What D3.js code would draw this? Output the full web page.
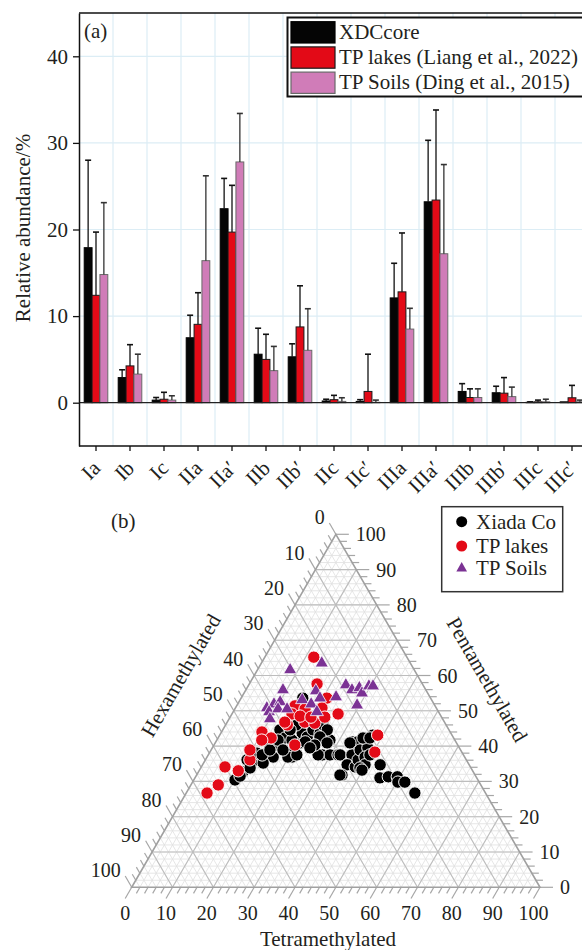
<!DOCTYPE html>
<html><head><meta charset="utf-8">
<script src="https://cdn.jsdelivr.net/npm/d3@7"></script>
<style>
body{margin:0;background:#fff}
text{font-family:"Liberation Serif","Times New Roman",serif;fill:#231f20}
</style>
</head><body>
<svg id="c" width="582" height="950"></svg>
<script>
// ---------- DATA: panel (a) ----------
const categories = ["Ia","Ib","Ic","IIa","IIa′","IIb","IIb′","IIc","IIc′","IIIa","IIIa′","IIIb","IIIb′","IIIc","IIIc′"];
const seriesNames = ["XDCcore","TP lakes (Liang et al., 2022)","TP Soils (Ding et al., 2015)"];
const xdcMean   = [17.9, 2.9, 0.3, 7.5, 22.4, 5.6, 5.3, 0.2, 0.15, 12.1, 23.2, 1.3, 1.15, 0.05, 0.1];
const xdcSd     = [10.1, 0.9, 0.3, 2.6, 3.5, 3.0, 1.5, 0.2, 0.2, 4.0, 7.1, 0.9, 0.75, 0.05, 0.0];
const lakesMean = [12.4, 4.25, 0.4, 9.05, 19.7, 5.0, 8.75, 0.35, 1.3, 12.8, 23.4, 0.6, 1.1, 0.1, 0.57];
const lakesSd   = [7.3, 2.45, 0.8, 3.65, 5.4, 2.9, 4.75, 0.5, 4.3, 6.8, 10.4, 1.0, 1.8, 0.2, 1.43];
const soilsMean = [14.8, 3.3, 0.3, 16.4, 27.8, 3.7, 6.05, 0.15, 0.05, 8.5, 17.2, 0.6, 0.7, 0.1, 0.1];
const soilsSd   = [8.3, 2.3, 0.5, 9.8, 5.6, 2.8, 4.8, 0.42, 0.25, 2.4, 10.3, 1.0, 1.1, 0.3, 0.2];
const yTicks = [0, 10, 20, 30, 40];

// ---------- DATA: panel (b) [tetra, penta, hexa] ----------
const ternTicks = [0,10,20,30,40,50,60,70,80,90,100];
const ternLegend = ["Xiada Co","TP lakes","TP Soils"];
const xiadaCo = [
 [10.1,30.4,59.5],[10.9,32.7,56.4],[10.2,36.1,53.7],[12.7,36.1,51.2],[11.7,38.0,50.3],[14.1,38.0,47.9],
 [14.0,39.8,46.2],[16.2,36.9,46.9],[16.5,39.8,43.7],[16.8,42.6,40.6],[14.0,44.6,41.4],[20.8,36.9,42.3],
 [20.8,40.9,38.3],[19.9,43.7,36.4],[21.7,42.6,35.7],[22.1,44.6,33.3],[24.3,43.7,32.0],[27.7,41.7,30.6],
 [27.9,37.5,34.6],[29.8,37.5,32.7],[31.8,37.5,30.7],[15.1,53.6,31.3],[16.4,42.3,41.3],[18.4,41.7,39.9],
 [21.9,41.2,36.9],[20.2,38.0,41.8],[19.8,36.9,43.3],[21.7,37.5,40.8],[23.9,46.0,30.1],[25.6,44.6,29.8],
 [24.8,42.6,32.6],[27.4,40.9,31.7],[26.9,37.5,35.6],[14.6,35.2,50.2],[12.1,33.8,54.1],[10.8,31.5,57.7],
 [15.0,41.7,43.3],[17.3,46.0,36.7],[16.5,44.6,38.9],[24.7,40.3,35.0],[17.6,38.9,43.5],[13.2,37.5,49.3],
 [14.4,38.9,46.7],[23.9,39.5,36.6],[14.9,51.6,33.5],
 [32.3,37.5,30.2],[33.4,41.2,25.4],[35.0,39.5,25.5],[35.2,37.5,27.3],[35.4,34.7,29.9],[37.7,34.1,28.2],
 [35.6,31.8,32.6],[37.4,36.1,26.5],[37.5,43.1,19.4],[36.0,42.3,21.7],[34.8,41.2,24.0],[36.5,38.9,24.6],
 [38.1,39.5,22.4],[38.7,36.9,24.4],[39.8,34.7,25.5],[39.0,33.8,27.2],[39.6,37.5,22.9],[43.5,34.7,21.8],
 [45.3,31.0,23.7],[47.2,31.3,21.5],[49.4,31.3,19.3],[50.3,29.8,19.9],[52.0,29.8,18.2],[56.0,26.7,17.3],
 [39.8,33.2,27.0],[33.0,40.9,26.1],[35.5,42.3,22.2],[35.1,31.8,33.1],[37.2,42.3,20.5]
];
const tpLakes = [
 [5.1,26.7,68.2],[6.7,29.0,64.3],[5.8,34.1,60.1],[9.6,33.0,57.4],[10.9,36.1,53.0],[9.9,44.0,46.1],
 [13.0,42.3,44.7],[12.0,65.2,22.8],[16.6,57.6,25.8],[21.0,53.6,25.4],[26.0,49.1,24.9],[14.3,51.4,34.3],
 [17.2,50.5,32.3],[14.7,49.1,36.2],[19.0,46.8,34.2],[21.6,46.5,31.9],[21.2,50.8,28.0],[19.8,40.3,39.9],
 [15.1,46.0,38.9],[38.7,43.1,18.2],[40.4,38.3,21.3],[9.5,38.9,51.6],[14.1,46.8,39.1],[17.0,48.5,34.5],
 [19.8,48.2,32.0],[23.2,48.2,28.6],[11.0,41.7,47.3]
];
const tpSoils = [
 [8.0,61.6,30.4],[14.8,63.5,21.7],[9.1,55.9,35.0],[17.3,55.6,27.1],[19.3,53.6,27.1],[15.2,53.1,31.7],
 [18.0,51.9,30.1],[7.7,50.8,41.5],[8.9,51.9,39.2],[10.1,52.5,37.4],[8.8,49.7,41.5],[10.6,50.5,38.9],
 [12.8,50.5,36.7],[10.0,47.7,42.3],[20.5,49.7,29.8],[23.1,53.9,23.0],[23.8,57.3,18.9],[26.0,55.9,18.1],
 [27.5,56.5,16.0],[28.9,55.0,16.1],[29.6,57.0,13.4],[30.6,57.0,12.4],[29.4,51.6,19.0]
];

// ---------- PANEL (a) ----------
const svg = d3.select("#c");
const L = 79, R = 589, T0 = 13, B = 446;
const x = d3.scaleBand().domain(categories).range([L, R]);
const xs = d3.scaleBand().domain([0,1,2]).range([5.2, 28.8]);
const y = d3.scaleLinear().domain([-5, 45]).range([B, T0]);
const means = [xdcMean, lakesMean, soilsMean];
const sds = [xdcSd, lakesSd, soilsSd];
const fills = ["#050505", "#e30a17", "#d07cb8"];
const strokes = ["#000", "#1a1a1a", "#6a6a6a"];
const errStroke = ["#111", "#111", "#333"];

const ga = svg.append("g");
ga.selectAll(".hg").data(yTicks.filter(d => d !== 0)).join("line")
  .attr("x1", L).attr("x2", R).attr("y1", d => y(d)).attr("y2", d => y(d))
  .attr("stroke", "#dcedf5").attr("stroke-width", 1.2);
ga.selectAll(".vg").data(categories.slice(1)).join("line")
  .attr("x1", d => x(d)).attr("x2", d => x(d)).attr("y1", T0).attr("y2", B)
  .attr("stroke", "#dcedf5").attr("stroke-width", 1.2);

means.forEach((arr, s) => {
  ga.append("g").selectAll("rect").data(arr).join("rect")
    .attr("x", (d, i) => x(categories[i]) + xs(s))
    .attr("width", xs.bandwidth())
    .attr("y", d => y(d))
    .attr("height", d => y(0) - y(d))
    .attr("fill", fills[s]).attr("stroke", strokes[s]).attr("stroke-width", 1);
});
means.forEach((arr, s) => {
  const g = ga.append("g").attr("stroke", errStroke[s]).attr("stroke-width", 1.3);
  arr.forEach((d, i) => {
    if (sds[s][i] <= 0) return;
    const cx = x(categories[i]) + xs(s) + xs.bandwidth() / 2;
    g.append("line").attr("x1", cx).attr("x2", cx).attr("y1", y(d)).attr("y2", y(d + sds[s][i]));
    g.append("line").attr("x1", cx - 3).attr("x2", cx + 3).attr("y1", y(d + sds[s][i])).attr("y2", y(d + sds[s][i])).attr("stroke-width", 1.6);
  });
});
ga.append("line").attr("x1", L).attr("x2", R).attr("y1", y(0)).attr("y2", y(0)).attr("stroke", "#222").attr("stroke-width", 1.3);
ga.append("line").attr("x1", L).attr("x2", R).attr("y1", T0).attr("y2", T0).attr("stroke", "#111").attr("stroke-width", 1.5);
ga.append("line").attr("x1", L).attr("x2", R).attr("y1", B).attr("y2", B).attr("stroke", "#111").attr("stroke-width", 1.5);

const ay = ga.append("g").attr("transform", `translate(${L},0)`)
  .call(d3.axisLeft(y).tickValues(yTicks).tickSize(6).tickSizeOuter(0).tickPadding(5));
ay.select(".domain").attr("stroke", "#111").attr("stroke-width", 1.5);
ay.selectAll(".tick line").attr("stroke", "#111").attr("stroke-width", 1.3);
ay.selectAll(".tick text").attr("font-size", 21).attr("font-family", "Liberation Serif").attr("fill", "#231f20");

const ax = ga.append("g").attr("transform", `translate(0,${B})`)
  .call(d3.axisBottom(x).tickSize(5).tickSizeOuter(0));
ax.select(".domain").remove();
ax.selectAll(".tick line").attr("stroke", "#111").attr("stroke-width", 1.3);
ax.selectAll(".tick text").remove();
ga.selectAll(".xl").data(categories).join("text")
  .attr("transform", d => `translate(${x(d) + x.bandwidth()/2 + 5.5},469.5) rotate(-45)`)
  .attr("text-anchor", "end").attr("font-size", 21).text(d => d);

ga.append("text").attr("transform", "translate(30,228) rotate(-90)")
  .attr("text-anchor", "middle").attr("font-size", 21).text("Relative abundance/%");
ga.append("text").attr("x", 84).attr("y", 38).attr("font-size", 21).text("(a)");

const lg = ga.append("g");
lg.append("rect").attr("x", 287.5).attr("y", 17.5).attr("width", 305).attr("height", 79)
  .attr("fill", "#fff").attr("stroke", "#111").attr("stroke-width", 2);
seriesNames.forEach((n, i) => {
  lg.append("rect").attr("x", 291).attr("y", 21.7 + i * 25.2).attr("width", 44).attr("height", 21.3)
    .attr("fill", fills[i]).attr("stroke", strokes[i]).attr("stroke-width", 1.2);
  lg.append("text").attr("x", 339).attr("y", 39.3 + i * 25).attr("font-size", 21).text(n);
});

// ---------- PANEL (b) ----------
const gb = svg.append("g");
const tx = d3.scaleLinear().domain([0, 100]).range([131.7, 540]);
const ty = d3.scaleLinear().domain([0, 100]).range([887.3, 534.3]);
const pos = (t, p) => [tx(t + p / 2), ty(p)];

gb.append("path").attr("d", `M${pos(0,0)}L${pos(100,0)}L${pos(0,100)}Z`).attr("fill", "#fff");

function gridLines(step) {
  const segs = [];
  d3.range(step, 100, step).forEach(v => {
    segs.push([pos(0, v), pos(100 - v, v)]);
    segs.push([pos(v, 0), pos(v, 100 - v)]);
    segs.push([pos(0, 100 - v), pos(100 - v, 0)]);
  });
  return segs;
}
gb.append("g").selectAll("line").data(gridLines(2)).join("line")
  .attr("x1", d => d[0][0]).attr("y1", d => d[0][1]).attr("x2", d => d[1][0]).attr("y2", d => d[1][1])
  .attr("stroke", "#e0e0e0").attr("stroke-width", 0.8);
gb.append("g").selectAll("line").data(gridLines(10)).join("line")
  .attr("x1", d => d[0][0]).attr("y1", d => d[0][1]).attr("x2", d => d[1][0]).attr("y2", d => d[1][1])
  .attr("stroke", "#bdbdbd").attr("stroke-width", 1.1);

const tk = gb.append("g").attr("stroke", "#a6a6a6").attr("stroke-width", 1.2);
d3.range(0, 101, 2).forEach(v => {
  const len = v % 10 === 0 ? 13 : 7;
  let p = pos(v, 0);
  tk.append("line").attr("x1", p[0]).attr("y1", p[1]).attr("x2", p[0] - 0.5 * len).attr("y2", p[1] + 0.866 * len);
  p = pos(100 - v, v);
  tk.append("line").attr("x1", p[0]).attr("y1", p[1]).attr("x2", p[0] + len).attr("y2", p[1]);
  p = pos(0, 100 - v);
  tk.append("line").attr("x1", p[0]).attr("y1", p[1]).attr("x2", p[0] - 0.5 * len).attr("y2", p[1] - 0.866 * len);
});
gb.append("path").attr("d", `M${pos(0,0)}L${pos(100,0)}L${pos(0,100)}Z`)
  .attr("fill", "none").attr("stroke", "#a0a0a0").attr("stroke-width", 1.6);

ternTicks.forEach(v => {
  let p = pos(v, 0);
  gb.append("text").attr("x", p[0] - 6.5).attr("y", p[1] + 33).attr("text-anchor", "middle").attr("font-size", 20).text(v);
  p = pos(100 - v, v);
  gb.append("text").attr("x", p[0] + 20).attr("y", p[1] + 7).attr("text-anchor", "start").attr("font-size", 20).text(v);
  p = pos(0, 100 - v);
  gb.append("text").attr("x", p[0] - 11).attr("y", p[1] - 10).attr("text-anchor", "end").attr("font-size", 20).text(v);
});

gb.append("text").attr("x", 328).attr("y", 946).attr("text-anchor", "middle").attr("font-size", 21).text("Tetramethylated");
gb.append("text").attr("transform", "translate(481,683) rotate(60)").attr("text-anchor", "middle").attr("font-size", 21).text("Pentamethylated");
gb.append("text").attr("transform", "translate(187,679) rotate(-60)").attr("text-anchor", "middle").attr("font-size", 21).text("Hexamethylated");
gb.append("text").attr("x", 111).attr("y", 528).attr("font-size", 21).text("(b)");

gb.append("g").selectAll("circle").data(xiadaCo).join("circle")
  .attr("cx", d => pos(d[0], d[1])[0]).attr("cy", d => pos(d[0], d[1])[1]).attr("r", 6.2)
  .attr("fill", "#000").attr("stroke", "#fff").attr("stroke-width", 1);
gb.append("g").selectAll("circle").data(tpLakes).join("circle")
  .attr("cx", d => pos(d[0], d[1])[0]).attr("cy", d => pos(d[0], d[1])[1]).attr("r", 6.2)
  .attr("fill", "#e30a17").attr("stroke", "#fff").attr("stroke-width", 1);
const tri = d3.symbol().type(d3.symbolTriangle).size(75);
gb.append("g").selectAll("path").data(tpSoils).join("path")
  .attr("d", tri).attr("transform", d => `translate(${pos(d[0], d[1])})`)
  .attr("fill", "#7b3294").attr("stroke", "#fff").attr("stroke-width", 0.8);

const lb = gb.append("g");
lb.append("rect").attr("x", 441.7).attr("y", 506.7).attr("width", 121).attr("height", 85)
  .attr("fill", "#fff").attr("stroke", "#333").attr("stroke-width", 1.5);
const lcol = ["#000", "#e30a17", "#7b3294"];
ternLegend.forEach((n, i) => {
  const cy = [521.7, 546, 568.3][i];
  if (i < 2) lb.append("circle").attr("cx", 461.7).attr("cy", cy).attr("r", 5.5).attr("fill", lcol[i]);
  else lb.append("path").attr("d", d3.symbol().type(d3.symbolTriangle).size(50)).attr("transform", `translate(461.7,${cy})`).attr("fill", lcol[i]);
  lb.append("text").attr("x", 476).attr("y", cy + 7).attr("font-size", 21).text(n);
});
</script>
</body></html>
